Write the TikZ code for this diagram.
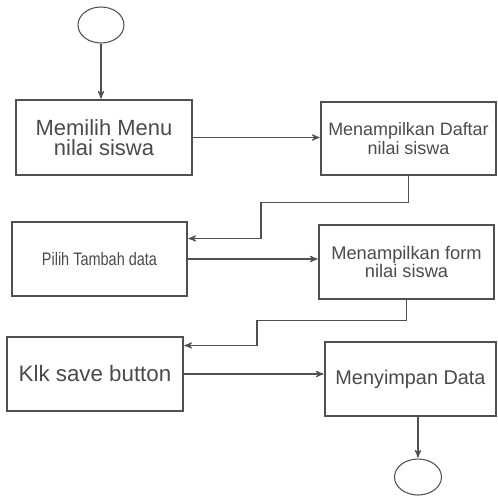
\documentclass[tikz,border=0pt]{standalone}
\usepackage{fontspec}
\setmainfont{Liberation Sans}
\usetikzlibrary{arrows,shapes,positioning}
\definecolor{linegray}{HTML}{505050}
\definecolor{textgray}{HTML}{4A4A4A}

\begin{document}
\begin{tikzpicture}[->,>=stealth',shorten >=0.5pt,auto,node distance=1cm,semithick,draw=linegray,
    stepbox/.style={draw=linegray,rectangle,minimum width=3.5cm,minimum height=1.48cm,align=center,text=textgray,inner sep=2pt},
    endpoint/.style={draw=linegray,ellipse,minimum width=0.92cm,minimum height=0.72cm,inner sep=0pt}]
             \useasboundingbox (0,0) rectangle (9.96,-9.92);
             \node[endpoint] (S) at (2.02,-0.50) {};
             \node[stepbox,minimum width=3.52cm,minimum height=1.5cm,font=\fontsize{12.5}{11.5}\selectfont] (A) [below of=S,xshift=0.06cm,yshift=-1.25cm] {Memilih Menu\\nilai siswa};
             \node[stepbox,minimum height=1.46cm,font=\fontsize{10.2}{10.5}\selectfont] (B) [right of=A,xshift=5.09cm,yshift=-0.02cm] {Menampilkan Daftar\\nilai siswa};
             \node[stepbox,font=\fontsize{10.3}{11}\selectfont] (C) [below of=A,xshift=-0.09cm,yshift=-1.43cm] {\scalebox{0.8}[1]{Pilih Tambah data}};
             \node[stepbox,font=\fontsize{10.4}{10.5}\selectfont] (D) [right of=C,xshift=5.14cm,yshift=-0.06cm] {Menampilkan form\\nilai siswa};
             \node[stepbox,minimum width=3.52cm,font=\fontsize{12.7}{13}\selectfont] (E) [below of=C,xshift=-0.09cm,yshift=-1.30cm] {Klk save button};
             \node[stepbox,minimum width=3.42cm,font=\fontsize{11.3}{12}\selectfont] (F) [right of=E,xshift=5.31cm,yshift=-0.10cm] {Menyimpan Data};
             \node[endpoint,minimum width=0.94cm] (G) [below of=F,xshift=0.15cm,yshift=-0.96cm] {};
             \path
             (S.south) edge (S.south |- A.north)
             (A.east) edge (A.east -| B.west)
             (C.east) edge (C.east -| D.west)
             (E.east) edge (E.east -| F.west)
             (G.north |- F.south) edge (G.north);
             \draw (B.south) -- ++(0,-0.54) -- ++(-2.95,0) |- ([yshift=-0.34cm]C.north east);
             \draw (D.south) -- ++(0,-0.42) -- ++(-2.99,0) |- ([yshift=-0.18cm]E.north east);
             \end{tikzpicture}
\end{document}
